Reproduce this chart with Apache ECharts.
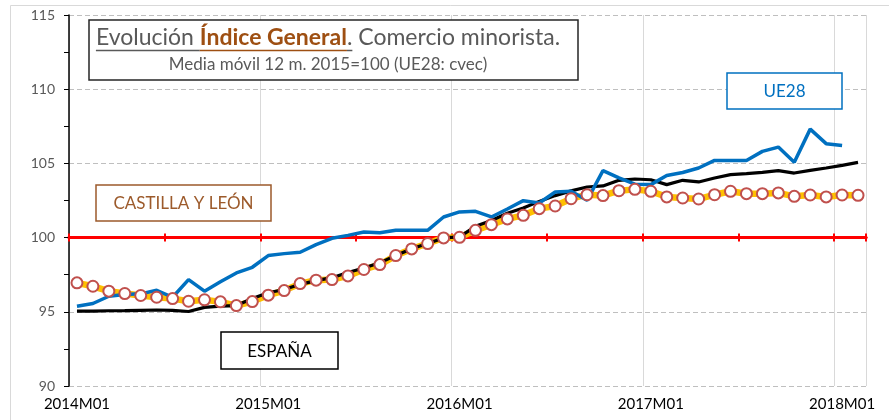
<!DOCTYPE html>
<html>
<head>
<meta charset="utf-8">
<script src="https://cdn.jsdelivr.net/npm/echarts@6/dist/echarts.min.js"></script>
<style>
  html, body { margin: 0; padding: 0; background: #fff; }
  #chart { width: 889px; height: 420px; }
</style>
</head>
<body>
<div id="chart"></div>
<script>
// meses (media movil 12 m.)
var categories = [
  '2014M01','2014M02','2014M03','2014M04','2014M05','2014M06','2014M07','2014M08','2014M09','2014M10','2014M11','2014M12',
  '2015M01','2015M02','2015M03','2015M04','2015M05','2015M06','2015M07','2015M08','2015M09','2015M10','2015M11','2015M12',
  '2016M01','2016M02','2016M03','2016M04','2016M05','2016M06','2016M07','2016M08','2016M09','2016M10','2016M11','2016M12',
  '2017M01','2017M02','2017M03','2017M04','2017M05','2017M06','2017M07','2017M08','2017M09','2017M10','2017M11','2017M12',
  '2018M01','2018M02'
];

var castillaLeon = [
  96.95, 96.72, 96.39, 96.23, 96.10, 95.98, 95.89, 95.71, 95.81, 95.67, 95.42, 95.69,
  96.12, 96.43, 96.90, 97.13, 97.17, 97.42, 97.85, 98.18, 98.79, 99.24, 99.60, 99.98,
  100.02, 100.49, 100.87, 101.26, 101.50, 101.95, 102.13, 102.62, 102.89, 102.83, 103.16, 103.25,
  103.12, 102.74, 102.67, 102.60, 102.89, 103.12, 102.96, 102.96, 103.01, 102.78, 102.87, 102.74,
  102.87, 102.85
];

var espana = [
  95.05, 95.05, 95.07, 95.08, 95.10, 95.12, 95.10, 95.02, 95.30, 95.38, 95.42, 95.90,
  96.28, 96.50, 96.85, 97.10, 97.30, 97.65, 97.95, 98.30, 98.80, 99.25, 99.60, 99.98,
  100.05, 100.76, 101.15, 101.64, 102.00, 102.44, 102.83, 103.15, 103.41, 103.48, 103.86, 103.95,
  103.90, 103.57, 103.86, 103.75, 104.02, 104.24, 104.31, 104.39, 104.51, 104.35, 104.53, 104.69,
  104.87, 105.07
];

var ue28 = [
  95.38, 95.56, 96.05, 96.16, 96.21, 96.45, 95.98, 97.17, 96.39, 97.02, 97.62, 98.00,
  98.79, 98.92, 99.01, 99.53, 99.95, 100.15, 100.38, 100.32, 100.49, 100.49, 100.49, 101.39,
  101.73, 101.77, 101.39, 101.93, 102.49, 102.33, 103.07, 103.12, 102.51, 104.51, 104.02, 103.60,
  103.57, 104.19, 104.39, 104.69, 105.20, 105.20, 105.20, 105.81, 106.10, 105.07, 107.31, 106.33,
  106.21, null
];

var yTicks = [90, 95, 100, 105, 110, 115];

var FONT = 'Lato, "Open Sans", sans-serif';

// medida de texto para el titulo subrayado
var _cv = document.createElement('canvas').getContext('2d');
function tw(txt, font) { _cv.font = font; return _cv.measureText(txt).width; }

function buildTitle() {
  var fN = '23px ' + FONT, fB = 'bold 23px ' + FONT;
  var parts = [
    {t: 'Evolución ', font: fN, color: '#595959', ul: '#595959'},
    {t: 'Índice General', font: fB, color: '#9e4f12', ul: '#9e4f12'},
    {t: '.', font: fN, color: '#595959', ul: '#595959'},
    {t: ' Comercio minorista.', font: fN, color: '#595959'}
  ];
  var total = 0;
  parts.forEach(function (p) { p.w = tw(p.t, p.font); total += p.w; });
  var cx = 328, x = cx - total / 2, y = 38;
  var els = [];
  parts.forEach(function (p) {
    els.push({type: 'text', z: 100, style: {text: p.t, x: x, y: y, font: p.font, fill: p.color, verticalAlign: 'middle', align: 'left'}});
    if (p.ul) {
      els.push({type: 'line', z: 100, shape: {x1: x, y1: 50.5, x2: x + p.w, y2: 50.5}, style: {stroke: p.ul, lineWidth: 1.5}});
    }
    x += p.w;
  });
  els.push({type: 'text', z: 100, style: {text: 'Media móvil 12 m. 2015=100 (UE28: cvec)', x: cx, y: 65,
    font: '17px ' + FONT, fill: '#595959', align: 'center', verticalAlign: 'middle'}});
  return els;
}

function box(x, y, w, h, color, label) {
  return [
    {type: 'rect', z: 100, shape: {x: x, y: y, width: w, height: h}, style: {fill: '#fff', stroke: color, lineWidth: 1.5}},
    {type: 'text', z: 101, style: {text: label, x: x + w / 2, y: y + h / 2 + 1, font: '17px ' + FONT, fill: color, align: 'center', verticalAlign: 'middle'}}
  ];
}

var graphics = [
  {type: 'rect', z: -1, shape: {x: 10.5, y: 5.5, width: 900, height: 430}, style: {fill: 'none', stroke: '#d9d9d9', lineWidth: 1}},
  {type: 'rect', z: 99, shape: {x: 89, y: 20, width: 489, height: 60}, style: {fill: '#fff', stroke: '#262626', lineWidth: 1.5}}
].concat(buildTitle())
 .concat(box(96, 185, 175, 36, '#9c5a2b', 'CASTILLA Y LEÓN'))
 .concat(box(221, 332, 117, 37, '#000000', 'ESPAÑA'))
 .concat(box(727, 73, 115, 36, '#0070c0', 'UE28'));

var myChart = echarts.init(document.getElementById('chart'));

var option = {
  animation: false,
  textStyle: {fontFamily: FONT},
  grid: {left: 69, right: 23, top: 15, bottom: 34, containLabel: false},
  xAxis: [
    {
      type: 'category',
      data: categories,
      boundaryGap: true,
      axisLine: {show: false},
      axisTick: {show: false},
      axisLabel: {interval: 11, color: '#000', fontSize: 15, margin: 11, fontFamily: FONT},
      splitLine: {show: true, interval: 11, lineStyle: {color: '#d9d9d9', width: 1}}
    },
    {
      // eje rojo en 100
      type: 'category',
      data: categories,
      boundaryGap: true,
      position: 'bottom',
      axisLine: {show: true, onZero: true, onZeroAxisIndex: 1, lineStyle: {color: '#ff0000', width: 3}},
      axisTick: {show: true, interval: 5, length: 4, lineStyle: {color: '#ff0000', width: 2}},
      axisLabel: {show: false},
      splitLine: {show: false}
    },
    {
      type: 'category',
      data: categories,
      boundaryGap: true,
      position: 'bottom',
      axisLine: {show: true, onZero: true, onZeroAxisIndex: 1, lineStyle: {color: '#ff0000', width: 3}},
      axisTick: {show: true, inside: true, interval: 5, length: 4, lineStyle: {color: '#ff0000', width: 2}},
      axisLabel: {show: false},
      splitLine: {show: false}
    }
  ],
  yAxis: [
    {
      type: 'value',
      min: yTicks[0],
      max: yTicks[yTicks.length - 1],
      interval: 5,
      axisLine: {show: true, lineStyle: {color: '#000', width: 1.5}},
      axisTick: {show: true, length: 5, lineStyle: {color: '#000'}},
      minorTick: {show: true, splitNumber: 2, length: 5, lineStyle: {color: '#000'}},
      axisLabel: {color: '#595959', fontSize: 14, margin: 14, fontFamily: FONT},
      splitLine: {show: true, lineStyle: {color: '#bfbfbf', type: [5, 3], width: 1}}
    },
    {
      // auxiliar: el 0 cae en 100 del eje principal
      type: 'value',
      min: -10,
      max: 15,
      show: false
    }
  ],
  series: [
    {
      name: 'CASTILLA Y LEÓN',
      type: 'line',
      data: castillaLeon,
      symbol: 'none',
      lineStyle: {color: '#ffc000', width: 6.5},
      z: 3
    },
    {
      name: 'ESPAÑA',
      type: 'line',
      data: espana,
      symbol: 'none',
      lineStyle: {color: '#000', width: 3.2},
      z: 4
    },
    {
      name: 'UE28',
      type: 'line',
      data: ue28,
      symbol: 'none',
      lineStyle: {color: '#0070c0', width: 3.5},
      z: 5
    },
    {
      name: 'CyL marcas',
      type: 'line',
      data: castillaLeon,
      symbol: 'circle',
      symbolSize: 11,
      showAllSymbol: true,
      lineStyle: {width: 0, opacity: 0},
      itemStyle: {color: '#fff', borderColor: '#c0504d', borderWidth: 2},
      z: 6
    }
  ],
  graphic: graphics
};

myChart.setOption(option);
</script>
</body>
</html>
